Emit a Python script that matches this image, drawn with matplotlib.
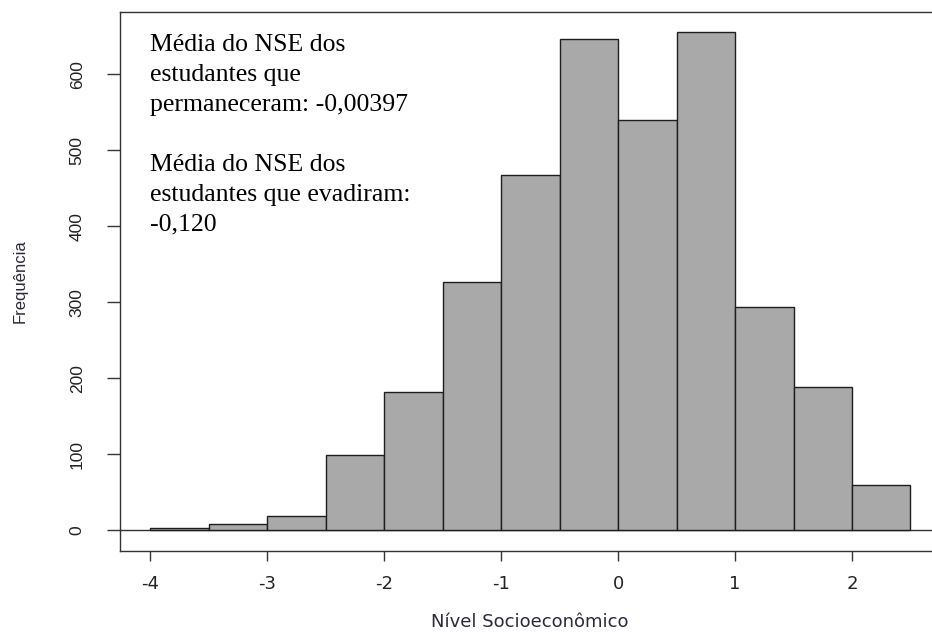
import matplotlib
matplotlib.use("Agg")
import matplotlib.pyplot as plt

# histogram data (NSE), bins of width 0.5
bin_left = [-4.0, -3.5, -3.0, -2.5, -2.0, -1.5, -1.0, -0.5, 0.0, 0.5, 1.0, 1.5, 2.0]
bin_width = 0.5
counts = [3, 8, 18, 99, 182, 327, 467, 646, 540, 656, 294, 188, 59]

x_ticks = [-4, -3, -2, -1, 0, 1, 2]
y_ticks = [0, 100, 200, 300, 400, 500, 600]

note = ("Média do NSE dos\nestudantes que\npermaneceram: -0,00397\n\n"
        "Média do NSE dos\nestudantes que evadiram:\n-0,120")

fig = plt.figure(figsize=(9.32, 6.33), dpi=100)
ax = fig.add_axes([0.1288, 0.130, 0.8807, 0.851])

ax.bar(bin_left, counts, width=bin_width, align="edge",
       color="#a9a9a9", edgecolor="#1e1e1e", linewidth=1.0, zorder=2)
ax.axhline(0, color="#333333", linewidth=1.0, zorder=1)

ax.set_xlim(-4.26, 2.76)
ax.set_ylim(-27.2, 682)

for s in ax.spines.values():
    s.set_color("#333333")
    s.set_linewidth(1.0)

ax.set_xticks(x_ticks)
ax.set_xticklabels([str(v) for v in x_ticks])
ax.set_yticks(y_ticks)
ax.set_yticklabels([str(v) for v in y_ticks], rotation=90, va="center")
ax.tick_params(axis="x", direction="out", length=7.2, width=1.0, color="#333333",
               pad=10.5, labelsize=13, labelcolor="#222222")
ax.tick_params(axis="y", direction="out", length=9.4, width=1.0, color="#333333",
               pad=16, labelsize=12.5, labelcolor="#222222")
for lab in ax.get_xticklabels():
    lab.set_family("DejaVu Sans")
for lab in ax.get_yticklabels():
    lab.set_family("Liberation Sans")

fig.text(20 / 932, (633 - 281) / 633, "Frequência", rotation=90, ha="center", va="center",
         fontsize=12, family="Liberation Sans", color="#2a2a3a")
fig.text(530 / 932, (633 - 622) / 633, "Nível Socioeconômico", ha="center", va="center",
         fontsize=13, family="DejaVu Sans", color="#2a2a3a")

# baseline of the last line of the note
ax.text(-4.0, 394.5, note, ha="left", va="baseline", fontsize=18.5,
        family="Liberation Serif", color="black", linespacing=1.46, zorder=3)

fig.savefig("out.png", dpi=100)
